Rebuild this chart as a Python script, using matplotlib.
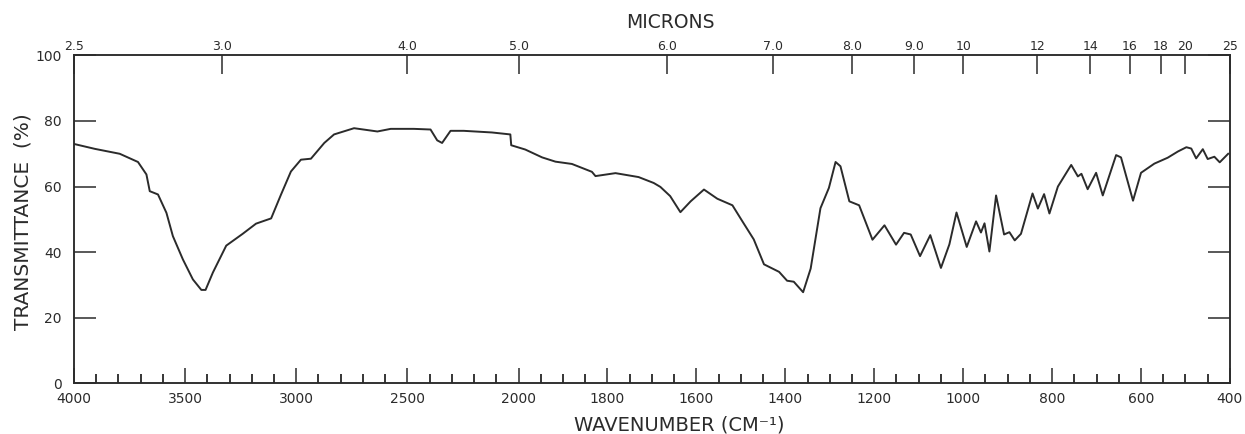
import numpy as np
import matplotlib
matplotlib.use("Agg")
import matplotlib.pyplot as plt

# spectrum: wavenumber (cm-1), transmittance (%)
wavenumber = [4000, 3906, 3794, 3712, 3674, 3659, 3622, 3584, 3555, 3510,
              3465, 3427, 3408, 3375, 3315, 3241, 3181, 3143, 3113, 3069,
              3024, 2979, 2934, 2874, 2830, 2740, 2635, 2575, 2471, 2396,
              2366, 2344, 2306, 2247, 2120, 2037, 2033, 1985, 1947, 1917,
              1880, 1835, 1827, 1782, 1730, 1696, 1681, 1659, 1636, 1613,
              1583, 1553, 1519, 1497, 1471, 1448, 1414, 1396, 1381, 1360,
              1343, 1321, 1302, 1287, 1276, 1256, 1234, 1204, 1177, 1151,
              1133, 1118, 1097, 1074, 1050, 1031, 1015, 992, 971, 960,
              952, 941, 926, 908, 896, 884, 870, 844, 832, 818,
              806, 787, 757, 742, 734, 720, 701, 686, 656, 645,
              618, 600, 570, 540, 517, 498, 487, 476, 461, 450,
              435, 423, 404]
transmittance = [73.0, 71.5, 70.0, 67.5, 63.7, 58.6, 57.6, 52.0, 44.9, 37.8,
                 31.7, 28.5, 28.5, 33.8, 42.0, 45.6, 48.7, 49.6, 50.3, 57.5,
                 64.6, 68.2, 68.5, 73.3, 75.9, 77.8, 76.8, 77.6, 77.6, 77.4,
                 74.1, 73.3, 77.0, 77.0, 76.5, 75.9, 72.6, 71.3, 68.9, 67.6,
                 66.9, 64.5, 63.2, 64.1, 62.9, 61.1, 59.9, 57.1, 52.2, 55.5,
                 59.1, 56.3, 54.3, 49.5, 43.9, 36.3, 34.0, 31.3, 31.0, 27.8,
                 35.0, 53.4, 59.6, 67.5, 66.2, 55.5, 54.3, 43.8, 48.2, 42.3,
                 45.9, 45.4, 38.8, 45.2, 35.2, 42.4, 52.1, 41.6, 49.4, 46.0,
                 48.8, 40.2, 57.3, 45.4, 46.1, 43.6, 45.6, 57.9, 53.3, 57.7,
                 51.8, 60.0, 66.6, 63.1, 63.9, 59.2, 64.2, 57.3, 69.6, 68.9,
                 55.7, 64.2, 67.0, 68.8, 70.7, 72.0, 71.6, 68.6, 71.4, 68.4,
                 69.1, 67.4, 70.0]

major_wn = [4000, 3500, 3000, 2500, 2000, 1800, 1600, 1400, 1200, 1000, 800, 600, 400]
minor_wn = list(range(3900, 2000, -100)) + list(range(1950, 400, -50))
minor_wn = [w for w in minor_wn if w not in major_wn]
micron_ticks = [2.5, 3.0, 4.0, 5.0, 6.0, 7.0, 8.0, 9.0, 10, 12, 14, 16, 18, 20, 25]
micron_labels = ["2.5", "3.0", "4.0", "5.0", "6.0", "7.0", "8.0", "9.0",
                 "10", "12", "14", "16", "18", "20", "25"]
y_ticks = [0, 20, 40, 60, 80, 100]


# chart paper: scale doubles below 2000 cm-1
def fwd(w):
    w = np.asarray(w, dtype=float)
    return np.where(w >= 2000, w, 2 * w - 2000)


def inv(u):
    u = np.asarray(u, dtype=float)
    return np.where(u >= 2000, u, (u + 2000) / 2)


ink = "#2b2b2b"
plt.rcParams["font.family"] = ["DejaVu Sans"]

fig = plt.figure(figsize=(12.45, 4.34), dpi=100)
ax = fig.add_axes([0.0594, 0.1166, 0.9285, 0.7558])

ax.plot(wavenumber, transmittance, color=ink, lw=1.4)

ax.set_xscale("function", functions=(fwd, inv))
ax.set_xlim(4000, 400)
ax.set_ylim(0, 100)

ax.set_xticks(major_wn, labels=[str(w) for w in major_wn])
ax.set_xticks(minor_wn, minor=True)
ax.set_yticks(y_ticks, labels=[str(v) for v in y_ticks])

ax.tick_params(axis="x", which="major", direction="in", length=11, width=1.1,
               pad=6, labelsize=10, colors=ink)
ax.tick_params(axis="x", which="minor", direction="in", length=6.5, width=1.1)
ax.tick_params(axis="y", direction="in", length=16, width=1.1, pad=9,
               labelsize=10, right=True, labelright=False, colors=ink)
for s in ax.spines.values():
    s.set_linewidth(1.1)
    s.set_color(ink)

ax.set_xlabel("WAVENUMBER (CM⁻¹)", fontsize=14, color=ink)
ax.xaxis.set_label_coords(0.524, -0.099)
ax.set_ylabel("TRANSMITTANCE  (%)", fontsize=14.5, color=ink)
ax.yaxis.set_label_coords(-0.0355, 0.492)

# microns along the top
ax2 = ax.twiny()
ax2.set_xscale("function", functions=(fwd, inv))
ax2.set_xlim(4000, 400)
ax2.set_xticks([1e4 / m for m in micron_ticks], labels=micron_labels)
ax2.tick_params(axis="x", direction="in", length=14, width=1.1, pad=2,
                labelsize=9, colors=ink)
ax2.set_xlabel("MICRONS", fontsize=13.5, color=ink)
ax2.xaxis.set_label_coords(0.516, 1.0835)
for s in ax2.spines.values():
    s.set_linewidth(1.1)
    s.set_color(ink)

fig.savefig("out.png", dpi=100)
